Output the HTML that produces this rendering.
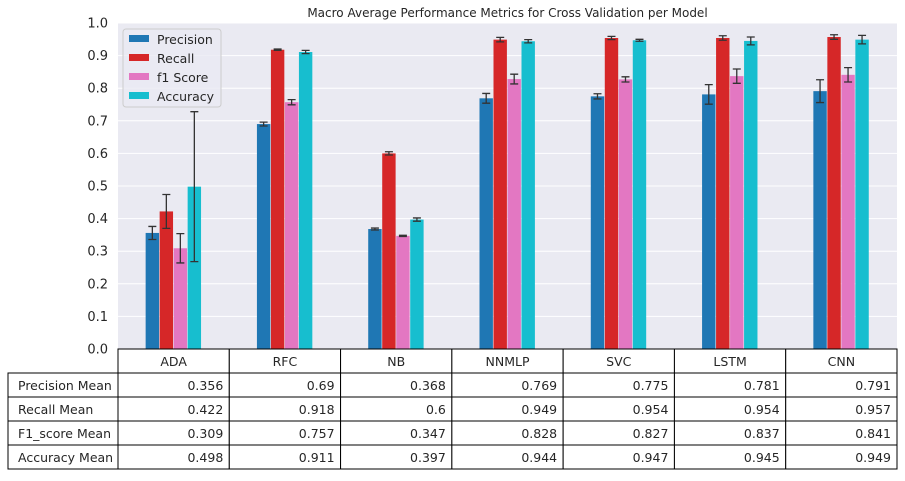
<!DOCTYPE html>
<html><head><meta charset="utf-8"><style>
body{margin:0;background:#fff;width:905px;height:476px;overflow:hidden;font-family:"Liberation Sans","DejaVu Sans",sans-serif}
</style></head><body>
<svg id="chart" width="905" height="476" xmlns="http://www.w3.org/2000/svg" font-family="DejaVu Sans, Liberation Sans, sans-serif"></svg>
<script>
const categories=["ADA","RFC","NB","NNMLP","SVC","LSTM","CNN"];
const seriesNames=["Precision","Recall","f1 Score","Accuracy"];
const precision=[0.356,0.69,0.368,0.769,0.775,0.781,0.791];
const recall=[0.422,0.918,0.6,0.949,0.954,0.954,0.957];
const f1=[0.309,0.757,0.347,0.828,0.827,0.837,0.841];
const accuracy=[0.498,0.911,0.397,0.944,0.947,0.945,0.949];
const precisionErr=[0.02,0.006,0.003,0.015,0.008,0.03,0.035];
const recallErr=[0.052,0.002,0.005,0.007,0.005,0.007,0.007];
const f1Err=[0.045,0.008,0.002,0.015,0.008,0.022,0.022];
const accuracyErr=[0.23,0.005,0.005,0.005,0.003,0.012,0.013];
const yTicks=[0,0.1,0.2,0.3,0.4,0.5,0.6,0.7,0.8,0.9,1.0];
const rowLabels=["Precision Mean","Recall Mean","F1_score Mean","Accuracy Mean"];
const colors=["#1f77b4","#d62728","#e377c2","#17becf"];
const values=[precision,recall,f1,accuracy],errs=[precisionErr,recallErr,f1Err,accuracyErr];
const NS="http://www.w3.org/2000/svg",svg=document.getElementById('chart');
const X0=118,X1=897,Y0=349,Y1=23;
const band=(X1-X0)/categories.length;
const y=v=>Y0-(Y1-Y0)*-v;
const xc=i=>X0+band*(i+0.5);
function mk(t,a,p){const e=document.createElementNS(NS,t);for(const k in a)e.setAttribute(k,a[k]);(p||svg).appendChild(e);return e;}
let e=mk('rect',{x:X0,y:Y1,width:X1-X0,height:Y0-Y1,fill:'#eaeaf2'});

yTicks.forEach(t=>{
 let g=mk('line',{x1:X0,x2:X1,y1:y(t),y2:y(t),stroke:'#fff','stroke-width':1});
 
 let l=mk('text',{x:108,y:y(t)+4.5,'text-anchor':'end','font-size':13,fill:'#262626'});l.textContent=t.toFixed(1);
 
});
let tt=mk('text',{x:(X0+X1)/2,y:17,'text-anchor':'middle','font-size':12,fill:'#262626'});tt.textContent='Macro Average Performance Metrics for Cross Validation per Model';

const bw=14;
categories.forEach((c,i)=>{
 values.forEach((s,j)=>{
  const bx=xc(i)-2*bw+j*bw;
  let r=mk('rect',{x:bx,y:y(s[i]),width:bw-0.6,height:Y0-y(s[i]),fill:colors[j]});
  
  const cx=bx+bw/2-0.3,hi=y(s[i]+errs[j][i]),lo=y(s[i]-errs[j][i]);
  let eb=mk('path',{d:`M${cx},${hi}V${lo}M${cx-4},${hi}H${cx+4}M${cx-4},${lo}H${cx+4}`,stroke:'#333','stroke-width':1.3,fill:'none'});
  
 });
});
// legend
let lg=mk('g',{});
mk('rect',{x:123,y:29,width:98,height:78,rx:3,fill:'#eaeaf2',stroke:'#ccc','fill-opacity':0.8},lg);
seriesNames.forEach((n,j)=>{
 mk('rect',{x:129,y:35+j*19,width:20,height:7,fill:colors[j]},lg);
 let t=mk('text',{x:157,y:44+j*19,'font-size':12.5,fill:'#262626'},lg);t.textContent=n;
 
});
// table
const RH=24,TY=349;
const tb=mk('g',{});
categories.forEach((c,i)=>{
 const x=X0+band*i;
 mk('rect',{x:x,y:TY,width:band,height:RH,fill:'#fff',stroke:'#000','stroke-width':1},tb);
 let t=mk('text',{x:x+band/2,y:TY+17,'text-anchor':'middle','font-size':12.5,fill:'#262626'},tb);t.textContent=c;
 
});
rowLabels.forEach((rl,r)=>{
 const ry=TY+RH*(r+1);
 mk('rect',{x:8,y:ry,width:X0-8,height:RH,fill:'#fff',stroke:'#000','stroke-width':1},tb);
 let t=mk('text',{x:18,y:ry+17,'font-size':12.5,fill:'#262626'},tb);t.textContent=rl;
 
 categories.forEach((c,i)=>{
  const x=X0+band*i;
  mk('rect',{x:x,y:ry,width:band,height:RH,fill:'#fff',stroke:'#000','stroke-width':1},tb);
  let v=mk('text',{x:x+band-6,y:ry+17,'text-anchor':'end','font-size':12.5,fill:'#262626'},tb);v.textContent=String(values[r][i]);
  
 });
});
</script>
</body></html>
